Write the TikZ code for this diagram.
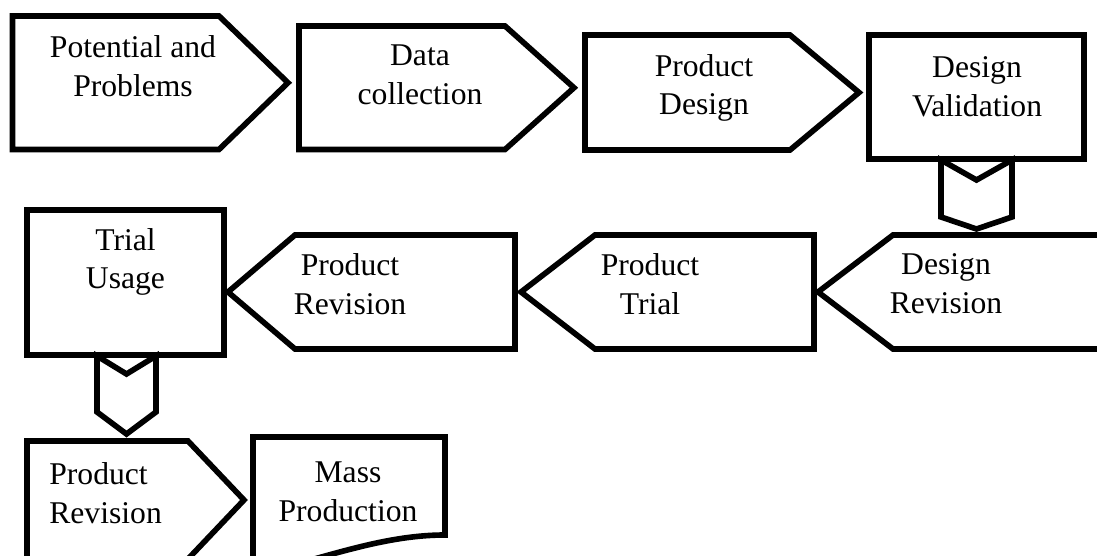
\documentclass[tikz,border=0pt]{standalone}
\usepackage{fontspec}
\setmainfont{Liberation Serif}
\begin{document}
\begin{tikzpicture}[line join=miter,
    stage/.style={draw, line width=3.2pt},
    caption/.style={inner sep=0pt, align=center, font=\fontsize{18}{22}\selectfont}]

\useasboundingbox (0,0) rectangle (21.94,-11.12);

% First row, pointing right
\draw[stage] (0.25,-0.32) -- (4.38,-0.32) -- (5.76,-1.655) -- (4.38,-2.99) -- (0.25,-2.99) -- cycle;
\draw[stage] (5.98,-0.52) -- (10.10,-0.52) -- (11.48,-1.755) -- (10.10,-2.99) -- (5.98,-2.99) -- cycle;
\draw[stage] (11.70,-0.70) -- (15.80,-0.70) -- (17.18,-1.85) -- (15.80,-3.00) -- (11.70,-3.00) -- cycle;
\draw[stage] (17.38,-0.70) rectangle (21.68,-3.18);

\node[caption] (pp) at ( 2.66,-1.32) {Potential and\\Problems};
\node[caption] (dc) at ( 8.40,-1.50) {Data\\collection};
\node[caption] (pd) at (14.08,-1.76) {Product\\Design};
\node[caption] (dv) at (19.54,-1.74) {Design\\Validation};

% chevron down to the second row
\draw[stage] (18.82,-3.20) -- (19.53,-3.60) -- (20.24,-3.20) -- (20.24,-4.34)
             -- (19.53,-4.58) -- (18.82,-4.34) -- cycle;

% Second row, pointing left (last one runs off the page)
\draw[stage] (22.20,-4.70) -- (17.86,-4.70) -- (16.36,-5.84) -- (17.86,-6.98) -- (22.20,-6.98);
\draw[stage] (16.28,-4.70) -- (11.90,-4.70) -- (10.42,-5.84) -- (11.90,-6.98) -- (16.28,-6.98) -- cycle;
\draw[stage] (10.30,-4.70) -- ( 5.90,-4.70) -- ( 4.56,-5.84) -- ( 5.90,-6.98) -- (10.30,-6.98) -- cycle;
\draw[stage] (0.54,-4.20) rectangle (4.48,-7.10);

\node[caption] (dr)  at (18.92,-5.67) {Design\\Revision};
\node[caption] (pt)  at (13.00,-5.69) {Product\\Trial};
\node[caption] (prb) at ( 7.00,-5.68) {Product\\Revision};
\node[caption] (tu)  at ( 2.51,-5.24) {Trial\\Usage};

% chevron down to the third row
\draw[stage] (1.94,-7.12) -- (2.53,-7.48) -- (3.12,-7.12) -- (3.12,-8.24)
             -- (2.53,-8.68) -- (1.94,-8.24) -- cycle;

% Third row (document shape has a wavy bottom)
\draw[stage] (0.54,-11.40) -- (0.54,-8.82) -- (3.76,-8.82) -- (4.88,-10.00) -- (3.76,-11.18);
\draw[stage] (5.06,-8.74) -- (8.90,-8.74) -- (8.90,-10.70)
             .. controls (7.60,-10.70) and (6.40,-11.20) .. (5.06,-11.50) -- cycle;

\node[caption, align=left, anchor=west] (prc) at (0.98,-9.86) {Product\\Revision};
\node[caption] (mp) at (6.96,-9.83) {Mass\\Production};

\end{tikzpicture}
\end{document}
